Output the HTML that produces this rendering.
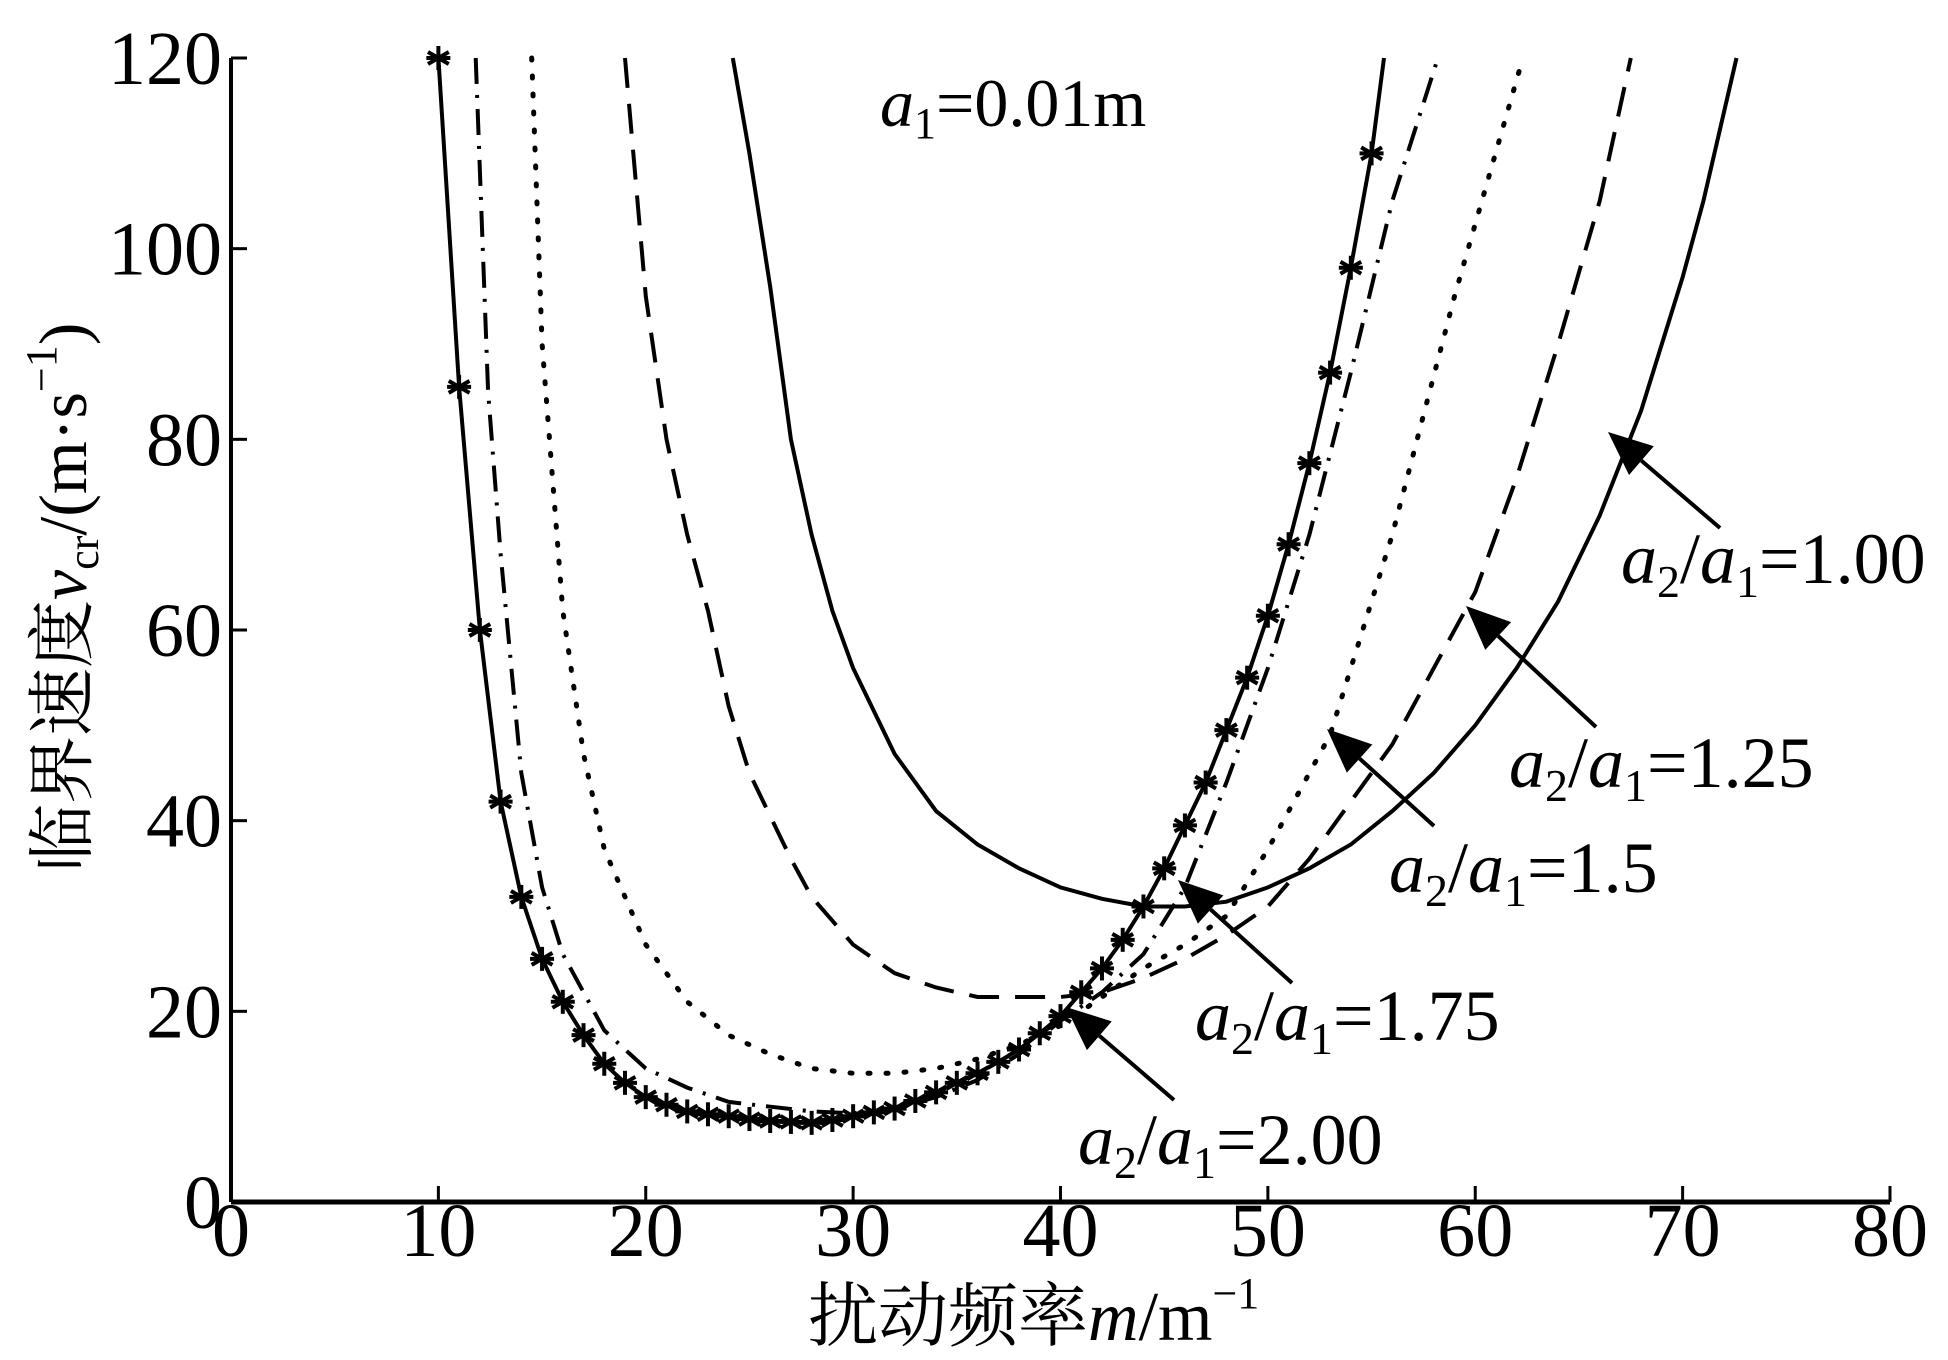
<!DOCTYPE html>
<html><head><meta charset="utf-8"><style>
html,body{margin:0;padding:0;background:#fff;}
svg{display:block;}
text{font-family:"Liberation Serif","Noto Serif CJK SC",serif;fill:#000;}
</style></head><body>
<svg id="chart" width="1948" height="1360" viewBox="0 0 1948 1360" xmlns="http://www.w3.org/2000/svg">
<g id="axes"></g>
<g id="series"></g>
<g id="annot"></g>
</svg>
<script>
const xTicks=[0,10,20,30,40,50,60,70,80];
const yTicks=[0,20,40,60,80,100,120];
const m200=[10,11,12,13,14,15,16,17,18,19,20,21,22,23,24,25,26,27,28,29,30,31,32,33,34,35,36,37,38,39,40,41,42,43,44,45,46,47,48,49,50,51,52,53,54,55,55.6];
const v200=[120,85.5,60,42,32,25.5,21,17.5,14.5,12.5,11,10.2,9.5,9.2,9,8.7,8.5,8.4,8.3,8.6,9,9.4,9.8,10.6,11.5,12.5,13.5,14.7,16,17.7,19.5,22,24.5,27.5,31,35,39.5,44,49.5,55,61.5,69,77.5,87,98,110,120];
const m175=[11.8,12.4,13,14,15,16,18,20,22,24,26,28,30,32,34,36,38,40,42,44,46,48,50,52,54,56,58.2];
const v175=[120,85,68,45,33,26,18,14,12,10.5,10,9.5,9.3,9.8,11,12.8,15.5,19,22,26,33,44,56,70,87,105,120];
const m150=[14.5,15,16,17,18,20,22,24,26,28,30,32,34,36,38,40,42,44,46,48,50,53,56,59,62.3];
const v150=[120,90,62,47,37,27,21,17.5,15.5,14,13.5,13.5,14,15,16.5,18.5,21.5,24.5,27,30,37,49,70,95,120];
const m125=[19,20,21,22,23,24,25,27,28,30,32,34,36,38,40,42,44,46,48,50,52,54,56,58,60,62,64,66,67.5];
const v125=[120,95,80,70,62,52,45,36,32,27,24,22.5,21.5,21.5,21.5,22,23.5,25.5,28,31,36,42,48,56,64,76,90,105,120];
const m100=[24.2,25,26,27,28,29,30,32,34,36,38,40,42,44,46,48,50,52,54,56,58,60,62,64,66,68,70,71,72.6];
const v100=[120,110,96,80,70,62,56,47,41,37.5,35,33,31.8,31,31,31.5,33,35,37.5,41,45,50,56,63,72,83,97,105,120];
const labelNames=["1.00","1.25","1.5","1.75","2.00"];

const X0=231,X1=1890,Y0=1202,Y1=58;
function sx(m){return X0+(m-0)/(80-0)*(X1-X0);}
function sy(v){return Y0-(v-0)/(120-0)*(Y0-Y1);}
const NS="http://www.w3.org/2000/svg";
function mk(tag,attrs,parent){const e=document.createElementNS(NS,tag);for(const k in attrs)e.setAttribute(k,attrs[k]);parent.appendChild(e);return e;}
const axes=document.getElementById('axes'),series=document.getElementById('series'),annot=document.getElementById('annot');

let xa=mk('line',{x1:X0,y1:Y0,x2:X1,y2:Y0,stroke:'#000','stroke-width':5},axes);


let ya=mk('line',{x1:X0,y1:Y0,x2:X0,y2:Y1,stroke:'#000','stroke-width':4},axes);


xTicks.forEach(t=>{
  if(t>0){let tk=mk('line',{x1:sx(t),y1:Y0,x2:sx(t),y2:Y0-16,stroke:'#000','stroke-width':3},axes);
  
  }
  let tl=mk('text',{x:sx(t),y:1256,'font-size':76,'text-anchor':'middle'},axes);
  tl.textContent=t;
  
  
});
yTicks.forEach(t=>{
  if(t>0){let tk=mk('line',{x1:X0,y1:sy(t),x2:X0+16,y2:sy(t),stroke:'#000','stroke-width':3},axes);
  
  }
  let tl=mk('text',{x:222,y:sy(t)+26,'font-size':76,'text-anchor':'end'},axes);
  tl.textContent=t;
  
  
});

function path(ms,vs){return ms.map((m,i)=>(i?'L':'M')+sx(m).toFixed(1)+','+sy(vs[i]).toFixed(1)).join(' ');}
const defs=[[m100,v100,'','series-ratio-1-00'],[m125,v125,'30 16','series-ratio-1-25'],[m150,v150,'2 16','series-ratio-1-5'],[m175,v175,'26 11 3 11','series-ratio-1-75'],[m200,v200,'','series-ratio-2-00']];
defs.forEach(d=>{
  const a={d:path(d[0],d[1]),fill:'none',stroke:'#000','stroke-width':d[2]==='2 16'?5:4,'stroke-linecap':d[2]==='2 16'?'round':'butt'};
  if(d[2])a['stroke-dasharray']=d[2];
  let p=mk('path',a,series);
  
  
});
m200.slice(0,46).forEach((m,i)=>{
  const cx=sx(m),cy=sy(v200[i]),r=12;
  let g=mk('g',{stroke:'#000','stroke-width':4},series);
  
  
  [0,60,120].forEach(a=>{const rad=a*Math.PI/180;mk('line',{x1:cx-r*Math.sin(rad),y1:cy-r*Math.cos(rad),x2:cx+r*Math.sin(rad),y2:cy+r*Math.cos(rad)},g);});
  mk('line',{x1:cx-r,y1:cy,x2:cx+r,y2:cy},g);
});

const arrows=[[1720,528,1608,432],[1596,727,1466,606],[1434,826,1327,729],[1292,983,1178,880],[1174,1100,1066,1007]];
arrows.forEach((a,i)=>{
  const [tx,ty,hx,hy]=a;const dx=hx-tx,dy=hy-ty,L=Math.hypot(dx,dy),ux=dx/L,uy=dy/L;
  const bl=44,bw=19;const bx=hx-ux*bl,by=hy-uy*bl;
  let g=mk('g',{},annot);
  
  
  mk('line',{x1:tx,y1:ty,x2:bx,y2:by,stroke:'#000','stroke-width':4},g);
  mk('polygon',{points:`${hx},${hy} ${bx-uy*bw},${by+ux*bw} ${bx+uy*bw},${by-ux*bw}`,fill:'#000'},g);
});
</script>
<svg style="position:absolute;left:0;top:0" width="1948" height="1360">
<text x="880" y="126" font-size="68"><tspan font-style="italic">a</tspan><tspan font-size="44" dy="12">1</tspan><tspan dy="-12">=0.01m</tspan></text>
<g font-size="72">
<text x="1621" y="583"><tspan font-style="italic">a</tspan><tspan font-size="46" dy="14">2</tspan><tspan dy="-14">/</tspan><tspan font-style="italic">a</tspan><tspan font-size="46" dy="14">1</tspan><tspan dy="-14">=1.00</tspan></text>
<text x="1509" y="787"><tspan font-style="italic">a</tspan><tspan font-size="46" dy="14">2</tspan><tspan dy="-14">/</tspan><tspan font-style="italic">a</tspan><tspan font-size="46" dy="14">1</tspan><tspan dy="-14">=1.25</tspan></text>
<text x="1389" y="892"><tspan font-style="italic">a</tspan><tspan font-size="46" dy="14">2</tspan><tspan dy="-14">/</tspan><tspan font-style="italic">a</tspan><tspan font-size="46" dy="14">1</tspan><tspan dy="-14">=1.5</tspan></text>
<text x="1195" y="1040"><tspan font-style="italic">a</tspan><tspan font-size="46" dy="14">2</tspan><tspan dy="-14">/</tspan><tspan font-style="italic">a</tspan><tspan font-size="46" dy="14">1</tspan><tspan dy="-14">=1.75</tspan></text>
<text x="1078" y="1164"><tspan font-style="italic">a</tspan><tspan font-size="46" dy="14">2</tspan><tspan dy="-14">/</tspan><tspan font-style="italic">a</tspan><tspan font-size="46" dy="14">1</tspan><tspan dy="-14">=2.00</tspan></text>
</g>
<text x="808" y="1340" font-size="70">扰动频率<tspan font-style="italic">m</tspan>/m<tspan font-size="44" dy="-32">−1</tspan></text>
<text transform="translate(86,872) rotate(-90)" font-size="68">临界速度<tspan font-style="italic">v</tspan><tspan font-size="44" dy="12">cr</tspan><tspan dy="-12">/(m·s</tspan><tspan font-size="44" dy="-30">−1</tspan><tspan dy="30">)</tspan></text>
</svg>
</body></html>
